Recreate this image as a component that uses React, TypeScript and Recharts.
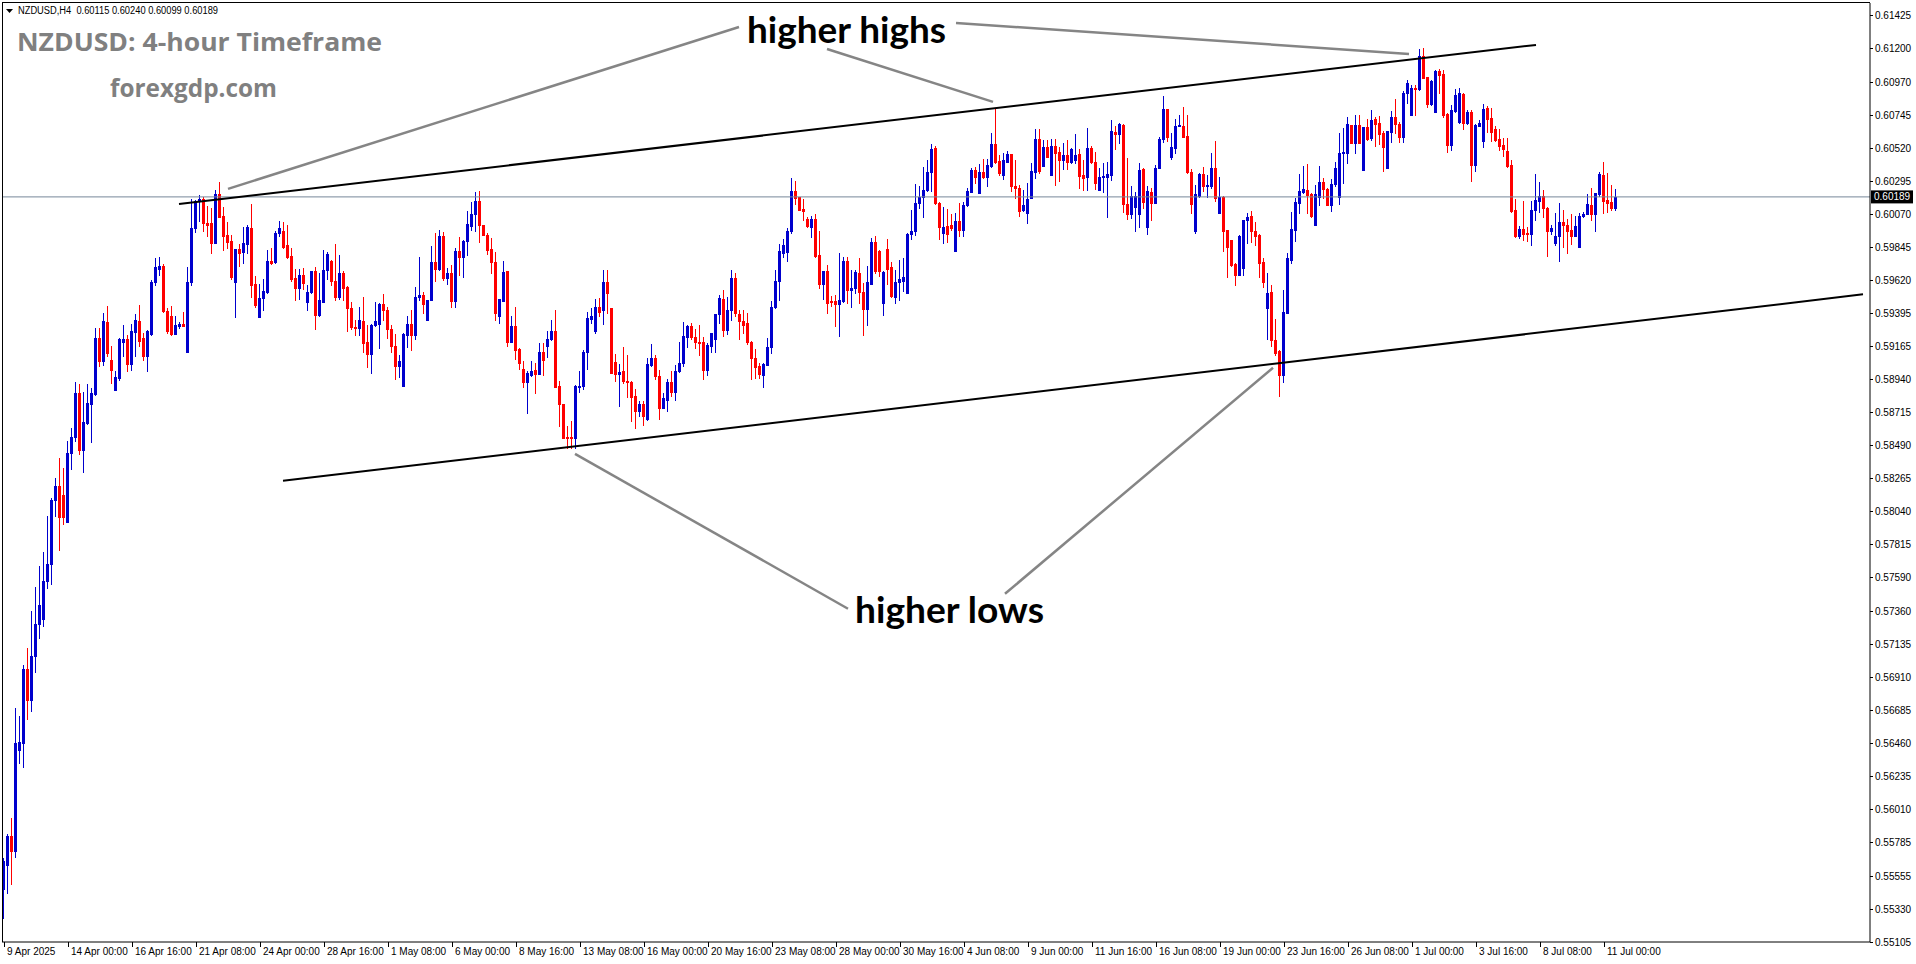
import React from 'react';
import { ComposedChart, Bar, XAxis, YAxis, ReferenceLine } from 'recharts';

const W = 1916;
const H = 964;
const BULL = '#0000CD';
const BEAR = '#FF0000';
const AXIS_FONT = '"Liberation Sans", Arial, sans-serif';

// NZDUSD H4 candles: [open, high, low, close]
const ohlc: number[][] = [
  [0.55464,0.55675,0.55271,0.55658],[0.55633,0.55841,0.55436,0.55827],[0.55827,0.55953,0.55500,0.55728],[0.55728,0.56702,0.55683,0.56460],
  [0.56414,0.56649,0.56326,0.56467],[0.56460,0.56994,0.56301,0.56969],[0.56969,0.57114,0.56628,0.56755],[0.56755,0.57363,0.56678,0.57057],
  [0.57057,0.57528,0.56948,0.57272],[0.57272,0.57669,0.57180,0.57405],[0.57310,0.57768,0.57258,0.57567],[0.57567,0.58014,0.57518,0.57687],
  [0.57687,0.58133,0.57546,0.58119],[0.58119,0.58274,0.58014,0.58218],[0.58218,0.58407,0.57778,0.58007],[0.58154,0.58341,0.57954,0.58007],
  [0.57971,0.58524,0.57971,0.58443],[0.58443,0.58611,0.58330,0.58548],[0.58548,0.58928,0.58524,0.58854],[0.58854,0.58910,0.58436,0.58464],
  [0.58464,0.58857,0.58313,0.58654],[0.58647,0.58910,0.58640,0.58780],[0.58773,0.58886,0.58516,0.58850],[0.58847,0.59297,0.58840,0.59227],
  [0.59227,0.59293,0.59033,0.59068],[0.59068,0.59399,0.59040,0.59339],[0.59332,0.59445,0.59103,0.59121],[0.59075,0.59174,0.58921,0.59005],
  [0.58872,0.58998,0.58872,0.58963],[0.58956,0.59227,0.58938,0.59220],[0.59202,0.59315,0.59103,0.59216],[0.59216,0.59244,0.58998,0.59051],
  [0.59051,0.59322,0.59005,0.59272],[0.59265,0.59392,0.59103,0.59350],[0.59339,0.59448,0.59174,0.59209],[0.59223,0.59258,0.59075,0.59103],
  [0.59103,0.59279,0.58998,0.59272],[0.59255,0.59624,0.59244,0.59610],[0.59610,0.59772,0.59589,0.59708],[0.59694,0.59779,0.59656,0.59719],
  [0.59715,0.59729,0.59402,0.59413],[0.59413,0.59430,0.59262,0.59272],[0.59374,0.59445,0.59244,0.59255],[0.59255,0.59378,0.59251,0.59315],
  [0.59311,0.59332,0.59297,0.59322],[0.59322,0.59406,0.59308,0.59308],[0.59132,0.59708,0.59132,0.59610],[0.59610,0.60176,0.59589,0.59976],
  [0.59976,0.60169,0.59947,0.60158],[0.60158,0.60201,0.60025,0.60176],[0.60176,0.60187,0.59958,0.60011],[0.60011,0.60130,0.59923,0.60000],
  [0.60011,0.60116,0.59806,0.59877],[0.59877,0.60239,0.59877,0.60211],[0.60211,0.60292,0.60053,0.60053],[0.60060,0.60123,0.59824,0.59923],
  [0.59926,0.60018,0.59842,0.59884],[0.59891,0.59930,0.59631,0.59642],[0.59606,0.59835,0.59367,0.59835],[0.59835,0.59870,0.59719,0.59806],
  [0.59814,0.59982,0.59736,0.59877],[0.59870,0.60000,0.59806,0.59982],[0.59975,0.60141,0.59508,0.59589],[0.59596,0.59649,0.59438,0.59448],
  [0.59367,0.59596,0.59367,0.59497],[0.59497,0.59631,0.59420,0.59550],[0.59543,0.59824,0.59533,0.59754],[0.59754,0.59842,0.59729,0.59736],
  [0.59743,0.59954,0.59736,0.59940],[0.59940,0.60025,0.59919,0.59975],[0.59958,0.60018,0.59842,0.59849],[0.59860,0.60000,0.59772,0.59782],
  [0.59789,0.59842,0.59613,0.59631],[0.59638,0.59694,0.59483,0.59568],[0.59568,0.59694,0.59490,0.59659],[0.59659,0.59701,0.59561,0.59603],
  [0.59469,0.59589,0.59420,0.59543],[0.59540,0.59680,0.59533,0.59680],[0.59680,0.59708,0.59286,0.59385],[0.59385,0.59673,0.59378,0.59483],
  [0.59473,0.59824,0.59469,0.59691],[0.59691,0.59814,0.59631,0.59796],[0.59754,0.59761,0.59589,0.59613],[0.59613,0.59870,0.59483,0.59508],
  [0.59508,0.59793,0.59490,0.59673],[0.59673,0.59680,0.59483,0.59568],[0.59575,0.59578,0.59272,0.59434],[0.59431,0.59473,0.59286,0.59300],
  [0.59304,0.59350,0.59244,0.59297],[0.59297,0.59438,0.59244,0.59346],[0.59343,0.59504,0.59128,0.59191],[0.59198,0.59315,0.59026,0.59114],
  [0.59114,0.59325,0.58988,0.59315],[0.59315,0.59469,0.59308,0.59343],[0.59325,0.59462,0.59156,0.59455],[0.59455,0.59526,0.59350,0.59420],
  [0.59420,0.59438,0.59227,0.59286],[0.59290,0.59315,0.59132,0.59174],[0.59174,0.59251,0.58945,0.59033],[0.59033,0.59111,0.58963,0.59068],
  [0.58900,0.59262,0.58900,0.59251],[0.59248,0.59377,0.59164,0.59323],[0.59323,0.59418,0.59141,0.59248],[0.59248,0.59573,0.59218,0.59509],
  [0.59505,0.59782,0.59487,0.59521],[0.59521,0.59539,0.59396,0.59459],[0.59346,0.59487,0.59346,0.59487],[0.59487,0.59857,0.59487,0.59744],
  [0.59744,0.59946,0.59618,0.59700],[0.59700,0.59964,0.59691,0.59919],[0.59919,0.59950,0.59623,0.59639],[0.59639,0.59703,0.59596,0.59668],
  [0.59668,0.59721,0.59441,0.59480],[0.59480,0.59839,0.59441,0.59821],[0.59821,0.59912,0.59657,0.59782],[0.59782,0.59896,0.59641,0.59889],
  [0.59889,0.60094,0.59793,0.60005],[0.59991,0.60157,0.59964,0.60073],[0.60073,0.60225,0.59959,0.60164],[0.60164,0.60232,0.59884,0.59998],
  [0.59998,0.59998,0.59930,0.59930],[0.59930,0.59941,0.59800,0.59828],[0.59834,0.59907,0.59668,0.59744],[0.59748,0.59816,0.59346,0.59400],
  [0.59373,0.59493,0.59327,0.59493],[0.59478,0.59755,0.59478,0.59678],[0.59680,0.59684,0.59173,0.59202],[0.59202,0.59373,0.59198,0.59309],
  [0.59305,0.59441,0.59082,0.59141],[0.59150,0.59157,0.59014,0.59055],[0.59018,0.59066,0.58895,0.58923],[0.58923,0.58998,0.58714,0.58986],
  [0.58973,0.59066,0.58964,0.59000],[0.59005,0.59059,0.58850,0.58982],[0.58982,0.59191,0.58982,0.59130],[0.59130,0.59191,0.58975,0.59077],
  [0.59175,0.59271,0.59096,0.59221],[0.59221,0.59350,0.59214,0.59277],[0.59275,0.59414,0.58895,0.58895],[0.58900,0.58930,0.58627,0.58775],
  [0.58775,0.58777,0.58543,0.58543],[0.58550,0.58627,0.58475,0.58543],[0.58550,0.58657,0.58475,0.58543],[0.58543,0.58907,0.58475,0.58900],
  [0.58891,0.58998,0.58861,0.58902],[0.58900,0.59141,0.58877,0.59130],[0.59130,0.59407,0.59014,0.59362],[0.59359,0.59430,0.59327,0.59377],
  [0.59277,0.59491,0.59259,0.59441],[0.59437,0.59498,0.59373,0.59405],[0.59414,0.59691,0.59323,0.59605],[0.59605,0.59691,0.59396,0.59532],
  [0.59430,0.59430,0.58986,0.58986],[0.59061,0.59118,0.58930,0.58982],[0.58982,0.59050,0.58764,0.58993],[0.58998,0.59168,0.58918,0.58930],
  [0.58930,0.59111,0.58827,0.58923],[0.58923,0.58930,0.58657,0.58827],[0.58832,0.58877,0.58611,0.58725],[0.58725,0.58793,0.58691,0.58777],
  [0.58777,0.58793,0.58634,0.58691],[0.58673,0.59089,0.58664,0.59048],[0.59043,0.59186,0.59032,0.59089],[0.59089,0.59111,0.58945,0.58964],
  [0.58968,0.59005,0.58673,0.58748],[0.58748,0.58850,0.58748,0.58816],[0.58800,0.58945,0.58725,0.58925],[0.58925,0.58998,0.58832,0.58855],
  [0.58855,0.59039,0.58800,0.58998],[0.58998,0.59196,0.58991,0.59059],[0.59055,0.59332,0.59032,0.59237],[0.59232,0.59316,0.59168,0.59311],
  [0.59305,0.59327,0.59218,0.59232],[0.59232,0.59286,0.59157,0.59196],[0.59202,0.59316,0.59111,0.59191],[0.59196,0.59232,0.58945,0.59009],
  [0.59009,0.59191,0.58975,0.59180],[0.59175,0.59259,0.59134,0.59259],[0.59221,0.59391,0.59134,0.59391],[0.59391,0.59521,0.59327,0.59498],
  [0.59491,0.59555,0.59237,0.59282],[0.59282,0.59509,0.59255,0.59414],[0.59414,0.59687,0.59350,0.59634],[0.59634,0.59668,0.59373,0.59396],
  [0.59391,0.59414,0.59218,0.59339],[0.59339,0.59414,0.59259,0.59316],[0.59327,0.59396,0.59186,0.59196],[0.59198,0.59209,0.58945,0.59089],
  [0.59089,0.59150,0.58952,0.59027],[0.59032,0.59055,0.58952,0.58982],[0.58975,0.59055,0.58895,0.59050],[0.59043,0.59225,0.59043,0.59164],
  [0.59164,0.59482,0.59123,0.59441],[0.59437,0.59691,0.59430,0.59616],[0.59612,0.59866,0.59487,0.59821],[0.59809,0.59900,0.59782,0.59862],
  [0.59816,0.59975,0.59755,0.59957],[0.59953,0.60316,0.59946,0.60232],[0.60232,0.60300,0.60139,0.60180],[0.60185,0.60185,0.60100,0.60100],
  [0.60105,0.60173,0.60032,0.60094],[0.60039,0.60050,0.59987,0.59991],[0.59987,0.60059,0.59914,0.60039],[0.60037,0.60073,0.59782,0.59787],
  [0.59794,0.59959,0.59566,0.59593],[0.59593,0.59684,0.59491,0.59684],[0.59684,0.59721,0.59400,0.59468],[0.59482,0.59514,0.59446,0.59473],
  [0.59482,0.59521,0.59305,0.59457],[0.59457,0.59805,0.59237,0.59487],[0.59482,0.59782,0.59475,0.59753],[0.59753,0.59782,0.59468,0.59555],
  [0.59555,0.59691,0.59441,0.59566],[0.59566,0.59687,0.59532,0.59675],[0.59673,0.59775,0.59464,0.59539],[0.59539,0.59600,0.59248,0.59423],
  [0.59423,0.59718,0.59312,0.59605],[0.59596,0.59907,0.59596,0.59884],[0.59884,0.59925,0.59668,0.59680],[0.59823,0.59828,0.59650,0.59680],
  [0.59468,0.59684,0.59384,0.59675],[0.59834,0.59903,0.59596,0.59698],[0.59709,0.59748,0.59505,0.59514],[0.59509,0.59691,0.59468,0.59605],
  [0.59605,0.59759,0.59487,0.59630],[0.59618,0.59771,0.59550,0.59641],[0.59532,0.59941,0.59532,0.59937],[0.59937,0.60100,0.59903,0.59957],
  [0.59953,0.60278,0.59930,0.60146],[0.60146,0.60260,0.60112,0.60191],[0.60187,0.60396,0.60055,0.60237],[0.60237,0.60441,0.60232,0.60362],
  [0.60362,0.60548,0.60232,0.60514],[0.60521,0.60537,0.60141,0.60146],[0.60150,0.60157,0.59903,0.59987],[0.59941,0.60123,0.59873,0.59987],
  [0.59991,0.60107,0.59884,0.59937],[0.59998,0.60073,0.59964,0.59975],[0.59823,0.60078,0.59823,0.60025],[0.60025,0.60146,0.59919,0.59964],
  [0.59964,0.60157,0.59919,0.60135],[0.60135,0.60248,0.60130,0.60232],[0.60225,0.60385,0.60225,0.60373],[0.60373,0.60391,0.60282,0.60323],
  [0.60214,0.60414,0.60214,0.60362],[0.60357,0.60446,0.60316,0.60323],[0.60323,0.60448,0.60260,0.60407],[0.60400,0.60628,0.60396,0.60551],
  [0.60551,0.60798,0.60419,0.60430],[0.60435,0.60476,0.60339,0.60350],[0.60339,0.60487,0.60310,0.60441],[0.60430,0.60505,0.60430,0.60480],
  [0.60480,0.60482,0.60232,0.60260],[0.60260,0.60441,0.60180,0.60248],[0.60253,0.60271,0.60059,0.60096],[0.60100,0.60237,0.60096,0.60135],
  [0.60082,0.60282,0.60009,0.60173],[0.60180,0.60423,0.60180,0.60366],[0.60362,0.60651,0.60316,0.60585],[0.60582,0.60653,0.60355,0.60366],
  [0.60400,0.60578,0.60400,0.60528],[0.60528,0.60578,0.60460,0.60464],[0.60339,0.60582,0.60339,0.60537],[0.60537,0.60582,0.60271,0.60491],
  [0.60498,0.60528,0.60300,0.60441],[0.60441,0.60560,0.60378,0.60476],[0.60476,0.60578,0.60378,0.60430],[0.60430,0.60521,0.60419,0.60514],
  [0.60441,0.60619,0.60423,0.60476],[0.60482,0.60514,0.60248,0.60332],[0.60339,0.60441,0.60237,0.60321],[0.60323,0.60657,0.60237,0.60521],
  [0.60526,0.60537,0.60423,0.60426],[0.60426,0.60498,0.60241,0.60287],[0.60237,0.60385,0.60237,0.60328],[0.60323,0.60419,0.60225,0.60332],
  [0.60328,0.60430,0.60055,0.60346],[0.60335,0.60714,0.60305,0.60639],[0.60635,0.60673,0.60514,0.60616],[0.60619,0.60692,0.60560,0.60685],
  [0.60680,0.60687,0.60089,0.60141],[0.60141,0.60453,0.60037,0.60073],[0.60073,0.60264,0.60044,0.60196],[0.60123,0.60225,0.59953,0.60196],
  [0.60073,0.60419,0.59987,0.60373],[0.60380,0.60385,0.60116,0.60157],[0.59982,0.60264,0.59937,0.60230],[0.60221,0.60253,0.60032,0.60150],
  [0.60150,0.60407,0.60150,0.60385],[0.60385,0.60596,0.60385,0.60585],[0.60585,0.60878,0.60566,0.60787],[0.60787,0.60789,0.60573,0.60596],
  [0.60464,0.60623,0.60446,0.60528],[0.60521,0.60719,0.60491,0.60673],[0.60673,0.60748,0.60673,0.60680],[0.60673,0.60801,0.60596,0.60601],
  [0.60605,0.60748,0.60350,0.60362],[0.60362,0.60378,0.60082,0.60141],[0.59953,0.60271,0.59941,0.60210],[0.60196,0.60350,0.60191,0.60344],
  [0.60344,0.60391,0.60230,0.60264],[0.60266,0.60339,0.60187,0.60271],[0.60264,0.60491,0.60248,0.60385],[0.60385,0.60571,0.60160,0.60180],
  [0.60082,0.60328,0.60082,0.60191],[0.60191,0.60196,0.59823,0.59959],[0.59964,0.59964,0.59641,0.59846],[0.59896,0.59896,0.59718,0.59725],
  [0.59732,0.59737,0.59589,0.59657],[0.59657,0.59930,0.59657,0.59923],[0.59707,0.60032,0.59657,0.60032],[0.60028,0.60082,0.59873,0.60055],
  [0.60059,0.60094,0.59884,0.59953],[0.59957,0.60021,0.59862,0.59919],[0.59930,0.59934,0.59641,0.59741],[0.59746,0.59771,0.59573,0.59605],
  [0.59434,0.59668,0.59218,0.59532],[0.59539,0.59589,0.59173,0.59214],[0.59214,0.59357,0.59111,0.59127],[0.59139,0.59146,0.58832,0.58971],
  [0.58971,0.59555,0.58923,0.59402],[0.59400,0.59809,0.59400,0.59773],[0.59759,0.60089,0.59737,0.59971],[0.59964,0.60180,0.59891,0.60157],
  [0.60150,0.60346,0.60078,0.60230],[0.60225,0.60400,0.60214,0.60241],[0.60237,0.60414,0.60082,0.60203],[0.60209,0.60214,0.60055,0.60059],
  [0.59998,0.60271,0.59998,0.60209],[0.60187,0.60400,0.60134,0.60291],[0.60291,0.60316,0.60180,0.60241],[0.60244,0.60248,0.60134,0.60134],
  [0.60134,0.60309,0.60096,0.60278],[0.60278,0.60430,0.60264,0.60389],[0.60187,0.60628,0.60141,0.60491],[0.60487,0.60657,0.60287,0.60494],
  [0.60491,0.60737,0.60419,0.60685],[0.60680,0.60680,0.60555,0.60560],[0.60560,0.60748,0.60491,0.60680],[0.60680,0.60748,0.60555,0.60560],
  [0.60373,0.60669,0.60373,0.60669],[0.60664,0.60719,0.60578,0.60582],[0.60589,0.60782,0.60578,0.60714],[0.60721,0.60732,0.60537,0.60687],
  [0.60691,0.60741,0.60550,0.60619],[0.60628,0.60639,0.60369,0.60532],[0.60385,0.60641,0.60385,0.60639],[0.60635,0.60778,0.60566,0.60737],
  [0.60737,0.60855,0.60623,0.60687],[0.60685,0.60703,0.60562,0.60596],[0.60596,0.60912,0.60566,0.60896],[0.60896,0.60987,0.60832,0.60964],
  [0.60748,0.60953,0.60748,0.60930],[0.60930,0.60953,0.60748,0.60926],[0.60926,0.61196,0.60919,0.61151],[0.61151,0.61203,0.60998,0.60998],
  [0.61005,0.61010,0.60805,0.60823],[0.60823,0.60987,0.60817,0.60982],[0.60771,0.61055,0.60771,0.61051],[0.61051,0.61060,0.60901,0.61021],
  [0.61028,0.61055,0.60732,0.60748],[0.60755,0.60760,0.60498,0.60544],[0.60544,0.60817,0.60510,0.60782],[0.60778,0.60923,0.60771,0.60885],
  [0.60703,0.60930,0.60696,0.60896],[0.60892,0.60896,0.60651,0.60696],[0.60696,0.60782,0.60685,0.60771],[0.60771,0.60782,0.60300,0.60407],
  [0.60407,0.60687,0.60369,0.60680],[0.60676,0.60714,0.60673,0.60696],[0.60573,0.60823,0.60528,0.60789],[0.60794,0.60810,0.60635,0.60719],
  [0.60730,0.60794,0.60571,0.60635],[0.60653,0.60676,0.60573,0.60578],[0.60582,0.60651,0.60510,0.60537],[0.60544,0.60589,0.60469,0.60514],
  [0.60503,0.60594,0.60396,0.60401],[0.60407,0.60441,0.60089,0.60094],[0.60100,0.60173,0.59914,0.59919],[0.59919,0.59991,0.59907,0.59969],
  [0.59969,0.60164,0.59896,0.59937],[0.59946,0.59982,0.59891,0.59937],[0.59937,0.60164,0.59862,0.60100],[0.60100,0.60346,0.60032,0.60169],
  [0.60164,0.60294,0.60089,0.60196],[0.60196,0.60237,0.60055,0.60112],[0.60112,0.60118,0.59787,0.59953],[0.59953,0.59998,0.59937,0.59975],
  [0.59873,0.60082,0.59862,0.59923],[0.59919,0.60150,0.59755,0.60016],[0.60021,0.60100,0.59850,0.59998],[0.59998,0.60037,0.59809,0.59953],
  [0.59964,0.60073,0.59866,0.59923],[0.59923,0.60059,0.59919,0.59991],[0.59850,0.60082,0.59850,0.60059],[0.60059,0.60089,0.60050,0.60073],
  [0.60073,0.60210,0.60073,0.60141],[0.60134,0.60248,0.60028,0.60073],[0.60073,0.60219,0.59959,0.60219],[0.60210,0.60362,0.60196,0.60346],
  [0.60335,0.60430,0.60078,0.60164],[0.60169,0.60355,0.60089,0.60150],[0.60157,0.60271,0.60100,0.60112],[0.60115,0.60240,0.60099,0.60189],
];

// time axis labels and the candle index where each one sits
const timeLabels = [
  '9 Apr 2025', '14 Apr 00:00', '16 Apr 16:00', '21 Apr 08:00', '24 Apr 00:00', '28 Apr 16:00', '1 May 08:00',
  '6 May 00:00', '8 May 16:00', '13 May 08:00', '16 May 00:00', '20 May 16:00', '23 May 08:00', '28 May 00:00',
  '30 May 16:00', '4 Jun 08:00', '9 Jun 00:00', '11 Jun 16:00', '16 Jun 08:00', '19 Jun 00:00', '23 Jun 16:00',
  '26 Jun 08:00', '1 Jul 00:00', '3 Jul 16:00', '8 Jul 08:00', '11 Jul 00:00',
];
const timeTickIdx = [0, 16, 32, 48, 64, 80, 96, 112, 128, 144, 160, 176, 192, 208, 224, 240, 256, 272, 288, 304, 320, 336, 352, 368, 384, 400];

const priceTicks = [
  0.61425, 0.61200, 0.60970, 0.60745, 0.60520, 0.60295, 0.60070, 0.59845, 0.59620, 0.59395, 0.59165, 0.58940,
  0.58715, 0.58490, 0.58265, 0.58040, 0.57815, 0.57590, 0.57360, 0.57135, 0.56910, 0.56685, 0.56460, 0.56235,
  0.56010, 0.55785, 0.55555, 0.55330, 0.55105,
];
const priceDomain = [0.55105, 0.61512];
const lastPrice = 0.60189;
const headerText = 'NZDUSD,H4  0.60115 0.60240 0.60099 0.60189';
const SLOTS = 467; // candle slots incl. right chart shift

// trend channel lines (candle index, price)
const upperChannel = [{ x: 43.75, y: 0.60141 }, { x: 383, y: 0.61226 }];
const lowerChannel = [{ x: 69.75, y: 0.58252 }, { x: 464.75, y: 0.59524 }];
// pointer lines from the labels to the swing points
const pointerLines = [
  [{ x: 56, y: 0.60244 }, { x: 183.75, y: 0.61348 }],
  [{ x: 205.75, y: 0.61198 }, { x: 247.25, y: 0.60837 }],
  [{ x: 238, y: 0.61376 }, { x: 351.25, y: 0.61164 }],
  [{ x: 142.75, y: 0.58436 }, { x: 211, y: 0.57379 }],
  [{ x: 250.25, y: 0.57481 }, { x: 317.25, y: 0.59023 }],
];

const rows = Array.from({ length: SLOTS }, (_, i) => {
  const r = ohlc[i];
  return r
    ? { idx: i, o: r[0], h: r[1], l: r[2], c: r[3], range: [r[2], r[1]] }
    : { idx: i, range: null };
});

const Candle = (props: any) => {
  const { x, y, width, height, payload } = props;
  if (!payload || payload.o == null || x == null || y == null) return null;
  const { o, h, l, c } = payload;
  const top = Math.min(y, y + height);
  const bot = Math.max(y, y + height);
  const span = h - l;
  const py = (v: number) => (span > 0 ? top + ((h - v) / span) * (bot - top) : top);
  const color = c >= o ? BULL : BEAR;
  const left = Math.round(x + width / 2 - 1.5);
  const bTop = Math.round(py(Math.max(o, c)));
  const bBot = Math.round(py(Math.min(o, c)));
  const wTop = Math.round(top);
  const wBot = Math.round(bot);
  return (
    <g shapeRendering="crispEdges">
      <rect x={left + 1} y={wTop} width={1} height={Math.max(1, wBot - wTop + 1)} fill={color} />
      <rect x={left} y={bTop} width={3} height={Math.max(1, bBot - bTop + 1)} fill={color} />
    </g>
  );
};

const TimeTick = (props: any) => {
  const { x, y, payload } = props;
  const k = timeTickIdx.indexOf(payload.value);
  if (k < 0) return null;
  return (
    <g>
      <line x1={x} x2={x} y1={y} y2={y + 5} stroke="#000" shapeRendering="crispEdges" />
      <text x={x + 3} y={y + 13} fontSize={10} fontFamily={AXIS_FONT} fill="#000">{timeLabels[k]}</text>
    </g>
  );
};

const PriceTick = (props: any) => {
  const { x, y, payload } = props;
  return (
    <g>
      <line x1={x} x2={x + 3} y1={y} y2={y} stroke="#000" shapeRendering="crispEdges" />
      <text x={x + 5} y={y + 3.5} fontSize={10} fontFamily={AXIS_FONT} fill="#000">{Number(payload.value).toFixed(5)}</text>
    </g>
  );
};

const PriceTag = (props: any) => {
  const vb = props.viewBox || {};
  const x = (vb.x ?? 0) + (vb.width ?? 0);
  const y = vb.y ?? 0;
  return (
    <g>
      <rect x={x + 1} y={y - 6.5} width={42} height={13} fill="#000" />
      <text x={x + 4} y={y + 3.5} fontSize={10} fontFamily={AXIS_FONT} fill="#fff">{lastPrice.toFixed(5)}</text>
    </g>
  );
};

export default function App() {
  return (
    <div style={{ position: 'absolute', left: 0, top: 0, width: W, height: H, background: '#fff', overflow: 'hidden' }}>
      <ComposedChart width={W} height={H} data={rows} margin={{ top: 3, right: 0, bottom: 0, left: 2 }}>
        <XAxis
          dataKey="idx"
          type="category"
          ticks={timeTickIdx}
          interval={0}
          tickSize={0}
          tickMargin={0}
          tickLine={false}
          axisLine={{ stroke: '#000' }}
          height={22}
          tick={<TimeTick />}
        />
        <XAxis xAxisId="n" dataKey="idx" type="number" domain={[-0.5, SLOTS - 0.5]} hide allowDataOverflow />
        <YAxis
          orientation="right"
          type="number"
          domain={priceDomain}
          ticks={priceTicks}
          interval={0}
          width={46}
          tickSize={0}
          tickMargin={0}
          tickLine={false}
          axisLine={{ stroke: '#000' }}
          allowDataOverflow
          tick={<PriceTick />}
        />
        <ReferenceLine y={lastPrice} stroke="#778899" strokeWidth={1} ifOverflow="visible" label={<PriceTag />} />
        <Bar dataKey="range" isAnimationActive={false} shape={(p: any) => <Candle {...p} />} />
        <ReferenceLine xAxisId="n" segment={upperChannel} stroke="#000" strokeWidth={2} ifOverflow="visible" />
        <ReferenceLine xAxisId="n" segment={lowerChannel} stroke="#000" strokeWidth={2} ifOverflow="visible" />
        {pointerLines.map((seg, i) => (
          <ReferenceLine key={i} xAxisId="n" segment={seg} stroke="#858585" strokeWidth={2.5} ifOverflow="visible" />
        ))}
      </ComposedChart>
      <div
        style={{
          position: 'absolute', left: 2, top: 2, width: 1868, height: 940,
          borderLeft: '1px solid #000', borderTop: '1px solid #000', boxSizing: 'border-box', pointerEvents: 'none',
        }}
      />
      <svg width={W} height={H} style={{ position: 'absolute', left: 0, top: 0, pointerEvents: 'none' }}>
        <polygon points="6,9 13,9 9.5,13" fill="#000" />
        <text x={18} y={14} fontSize={10} fontFamily={AXIS_FONT} fill="#000" textLength={200} lengthAdjust="spacingAndGlyphs" style={{ whiteSpace: 'pre' }}>{headerText}</text>
        <text x={17} y={50.5} fontSize={25} fontWeight="bold" fontFamily='"Open Sans", sans-serif' fill="#808080" textLength={365} lengthAdjust="spacingAndGlyphs">NZDUSD: 4-hour Timeframe</text>
        <text x={110} y={97} fontSize={25} fontWeight="bold" fontFamily='"Open Sans", sans-serif' fill="#808080" textLength={167} lengthAdjust="spacingAndGlyphs">forexgdp.com</text>
        <text x={747} y={43} fontSize={37} fontWeight="bold" fontFamily="Lato, sans-serif" fill="#000" textLength={199} lengthAdjust="spacingAndGlyphs">higher highs</text>
        <text x={855} y={623} fontSize={37} fontWeight="bold" fontFamily="Lato, sans-serif" fill="#000" textLength={189} lengthAdjust="spacingAndGlyphs">higher lows</text>
      </svg>
    </div>
  );
}
